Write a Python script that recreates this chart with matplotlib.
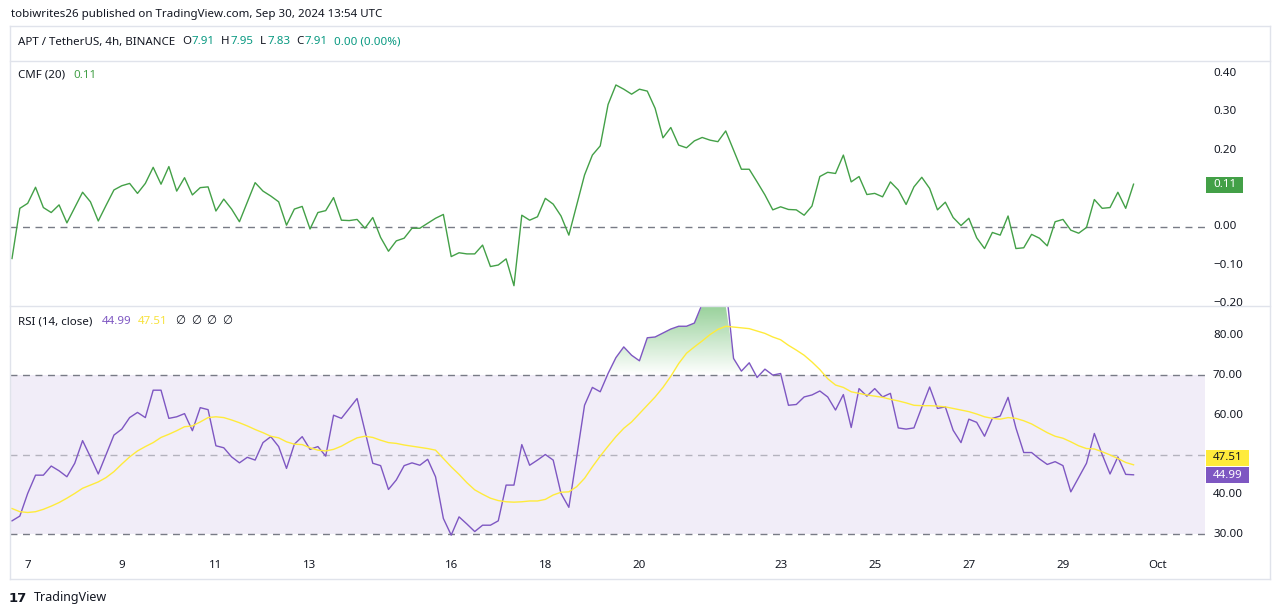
import numpy as np
import matplotlib
matplotlib.use("Agg")
import matplotlib.pyplot as plt
from matplotlib import transforms
from matplotlib.colors import to_rgb
from matplotlib.lines import Line2D
from matplotlib.patches import Rectangle
from matplotlib.path import Path
from matplotlib.transforms import Bbox, TransformedBbox

plt.rcParams['font.family'] = ['Noto Sans', 'DejaVu Sans']

# -----------------------------------
# DATA (APT/USDT 4h, first bar Sep 6 16:00 UTC)
# -----------------------------------
cmf = [
    -0.083, 0.048, 0.061, 0.103, 0.050, 0.037, 0.057, 0.010, 0.050, 0.090,
    0.065, 0.015, 0.056, 0.096, 0.107, 0.113, 0.087, 0.113, 0.155, 0.111,
    0.157, 0.093, 0.128, 0.083, 0.102, 0.104, 0.041, 0.072, 0.046, 0.013,
    0.064, 0.115, 0.093, 0.080, 0.065, 0.004, 0.046, 0.053, -0.006, 0.037,
    0.042, 0.076, 0.017, 0.016, 0.019, -0.004, 0.024, -0.028, -0.064, -0.037,
    -0.030, -0.004, -0.004, 0.009, 0.022, 0.032, -0.078, -0.068, -0.071, -0.071,
    -0.048, -0.104, -0.100, -0.084, -0.154, 0.030, 0.017, 0.026, 0.074, 0.059,
    0.028, -0.022, 0.057, 0.135, 0.187, 0.211, 0.319, 0.370, 0.359, 0.346,
    0.359, 0.354, 0.309, 0.232, 0.259, 0.213, 0.206, 0.224, 0.233, 0.226,
    0.222, 0.250, 0.200, 0.150, 0.150, 0.117, 0.083, 0.044, 0.052, 0.045,
    0.044, 0.030, 0.054, 0.131, 0.142, 0.139, 0.187, 0.117, 0.131, 0.084,
    0.087, 0.078, 0.117, 0.096, 0.058, 0.104, 0.129, 0.100, 0.044, 0.064,
    0.024, 0.003, 0.022, -0.029, -0.057, -0.015, -0.022, 0.028, -0.057, -0.055,
    -0.020, -0.030, -0.050, 0.013, 0.019, -0.009, -0.017, -0.002, 0.071, 0.048,
    0.050, 0.090, 0.048, 0.111,
]

rsi = [
    33.4, 34.6, 40.3, 44.9, 44.9, 47.2, 46.0, 44.5, 47.9, 53.6,
    49.5, 45.2, 50.1, 55.0, 56.5, 59.4, 60.7, 59.4, 66.3, 66.3,
    59.2, 59.6, 60.4, 56.1, 61.9, 61.4, 52.3, 51.8, 49.5, 48.0,
    49.4, 48.7, 53.1, 54.6, 52.1, 46.6, 52.7, 54.6, 51.4, 52.1,
    49.7, 60.0, 59.2, 61.7, 64.2, 56.1, 47.9, 47.3, 41.3, 43.7,
    47.3, 48.0, 47.4, 48.9, 44.5, 34.0, 29.8, 34.4, 32.6, 30.7,
    32.3, 32.3, 33.4, 42.4, 42.4, 52.6, 47.4, 48.7, 50.1, 48.7,
    40.3, 36.8, 49.5, 62.5, 67.0, 65.9, 70.5, 74.5, 77.2, 75.1,
    73.7, 79.5, 79.7, 80.7, 81.7, 82.4, 82.4, 83.2, 88.0, 91.0,
    93.0, 93.0, 74.3, 71.1, 73.2, 69.5, 71.6, 70.1, 70.5, 62.5,
    62.7, 64.6, 65.1, 66.1, 64.6, 61.3, 65.2, 56.9, 66.7, 64.8,
    66.7, 64.6, 65.5, 56.8, 56.5, 56.8, 62.0, 67.1, 61.7, 62.1,
    56.2, 53.1, 59.0, 58.2, 54.7, 59.2, 59.8, 64.5, 56.8, 50.6,
    50.6, 49.0, 47.6, 48.3, 47.3, 40.7, 44.3, 47.9, 55.4, 50.1,
    45.2, 49.5, 45.1, 44.99,
]

rsi_ma = [
    36.5, 35.7, 35.5, 35.7, 36.3, 37.1, 38.0, 39.1, 40.3, 41.6,
    42.4, 43.2, 44.3, 45.8, 47.7, 49.5, 51.0, 52.1, 53.1, 54.4,
    55.2, 56.1, 57.1, 57.3, 58.3, 59.4, 59.6, 59.4, 58.8, 58.1,
    57.3, 56.4, 55.6, 54.7, 54.3, 53.3, 52.7, 52.6, 51.8, 51.2,
    51.0, 51.4, 52.2, 53.3, 54.3, 54.7, 54.4, 53.7, 53.1, 52.9,
    52.5, 52.2, 51.9, 51.6, 51.2, 49.1, 47.0, 45.1, 43.0, 41.2,
    40.1, 39.1, 38.5, 38.2, 38.1, 38.2, 38.4, 38.4, 38.8, 39.9,
    40.6, 40.7, 42.0, 44.1, 47.0, 49.7, 52.2, 54.6, 56.7, 58.3,
    60.4, 62.5, 64.6, 67.0, 69.8, 73.0, 75.6, 77.2, 78.7, 80.3,
    81.6, 82.4, 82.2, 82.0, 81.8, 81.2, 80.6, 79.7, 79.0, 77.6,
    76.4, 75.1, 73.4, 71.5, 69.2, 67.6, 67.0, 65.9, 65.5, 65.1,
    64.8, 64.5, 64.0, 63.6, 63.1, 62.5, 62.4, 62.4, 62.3, 62.1,
    61.7, 61.3, 60.9, 60.3, 59.6, 59.2, 59.0, 59.4, 59.2, 58.6,
    57.8, 56.7, 55.6, 54.7, 54.2, 53.3, 52.3, 51.6, 51.5, 50.8,
    50.0, 49.1, 48.1, 47.51,
]

day_labels = ["7", "9", "11", "13", "16", "18", "20", "23", "25", "27", "29", "Oct"]
day_numbers = [7, 9, 11, 13, 16, 18, 20, 23, 25, 27, 29, 31]   # Oct 1 = Sep 31

cmf_ticks = [0.40, 0.30, 0.20, 0.00, -0.10, -0.20]
rsi_ticks = [80, 70, 60, 40, 30]

# -----------------------------------
# FIGURE LAYOUT (pixel based)
# -----------------------------------
W, H = 1281, 615
fig = plt.figure(figsize=(W / 100, H / 100), dpi=100)
fig.patch.set_facecolor("white")

DARK = "#131722"
GRID = "#787b86"
FRAME = "#e0e3eb"
GREEN = "#43a047"
PURPLE = "#7e57c2"
YELLOW = "#ffeb3b"
TEAL = "#089981"
FS = 8.3

def fx(x):
    return x / W

def fy(y):
    return 1 - y / H

PLOT_L, PLOT_R = 10, 1205
X0, DX = 12.0, 7.843   # pixel of first bar and bar spacing

def pane(top, bottom):
    ax = fig.add_axes([fx(PLOT_L), fy(bottom), fx(PLOT_R) - fx(PLOT_L), (bottom - top) / H])
    ax.set_facecolor("none")
    for s in ax.spines.values():
        s.set_visible(False)
    ax.set_xticks([])
    ax.set_yticks([])
    return ax

bars = np.arange(len(cmf))
XLIM = ((PLOT_L - X0) / DX, (PLOT_R - X0) / DX)

# -----------------------------------
# CMF PANE
# -----------------------------------
ax1 = pane(61, 306)
ax1.axhline(0, color=GRID, lw=1, dashes=(5, 4), zorder=1)
ax1.plot(bars, cmf, color=GREEN, lw=1.0, zorder=3)
ax1.set_xlim(*XLIM)
ax1.set_ylim(-0.207, 0.4326)

# -----------------------------------
# RSI PANE
# -----------------------------------
ax2 = pane(306, 553)
ax2.axhspan(30, 70, color=PURPLE, alpha=0.1, lw=0, zorder=0)
ax2.axhline(70, color=GRID, lw=1, dashes=(5, 4), zorder=1)
ax2.axhline(30, color=GRID, lw=1, dashes=(5, 4), zorder=1)
ax2.axhline(50, color=GRID, lw=1, dashes=(5, 4), alpha=0.5, zorder=1)

r = np.array(rsi)
top_lim = 87.5

# overbought gradient fill
ob = ax2.fill_between(bars, 70, np.minimum(r, top_lim), where=r > 70, interpolate=True,
                      facecolor="none", edgecolor="none")
img = np.zeros((256, 1, 4))
img[..., :3] = to_rgb("#4caf50")
img[..., 3] = np.linspace(0, 1, 256)[:, None]
im = ax2.imshow(img, extent=[bars[0], bars[-1], 70, 100], origin="lower",
                aspect="auto", interpolation="bilinear", zorder=2)
im.set_clip_path(Path.make_compound_path(*ob.get_paths()), ax2.transData)

# oversold gradient fill
os_ = ax2.fill_between(bars, 30, r, where=r < 30, interpolate=True,
                       facecolor="none", edgecolor="none")
if len(os_.get_paths()) > 0:
    img2 = np.zeros((256, 1, 4))
    img2[..., :3] = to_rgb("#f23645")
    img2[..., 3] = np.linspace(1, 0, 256)[:, None]
    im2 = ax2.imshow(img2, extent=[bars[0], bars[-1], 0, 30], origin="lower",
                     aspect="auto", interpolation="bilinear", zorder=2)
    im2.set_clip_path(Path.make_compound_path(*os_.get_paths()), ax2.transData)

ax2.plot(bars, rsi, color=PURPLE, lw=1.0, zorder=3)
ax2.plot(bars, rsi_ma, color=YELLOW, lw=1.0, zorder=4)
ax2.set_xlim(*XLIM)
ax2.set_ylim(25.3, top_lim)

# -----------------------------------
# PRICE SCALE LABELS
# -----------------------------------
def price_labels(ax, values, top, bottom):
    tr = transforms.blended_transform_factory(fig.transFigure, ax.transData)
    clip = TransformedBbox(Bbox([[fx(PLOT_L), fy(bottom)], [fx(1270), fy(top)]]), fig.transFigure)
    for v in values:
        t = fig.text(fx(1213), v, f"{v:.2f}".replace("-", "\u2212"), transform=tr,
                     ha="left", va="center", fontsize=FS, color=DARK)
        t.set_clip_on(True)
        t.set_clip_box(clip)

price_labels(ax1, cmf_ticks, 61, 306)
price_labels(ax2, rsi_ticks, 306, 553)

def badge(y_center, text, face, txt_color, width):
    fig.patches.append(Rectangle((fx(1206), fy(y_center + 8)), width / W, 16 / H,
                                 transform=fig.transFigure, facecolor=face, edgecolor="none"))
    fig.text(fx(1213), fy(y_center), text, ha="left", va="center",
             fontsize=FS, color=txt_color, fontweight="bold")

badge(184.5, f"{cmf[-1]:.2f}", GREEN, "white", 37)
badge(458, f"{rsi_ma[-1]:.2f}", YELLOW, DARK, 43)
badge(475, f"{rsi[-1]:.2f}", PURPLE, "white", 43)

# -----------------------------------
# TIME AXIS
# -----------------------------------
ttr = transforms.blended_transform_factory(ax2.transData, fig.transFigure)
for lab, d in zip(day_labels, day_numbers):
    pos = 2 + (d - 7) * 6
    fig.text(pos, fy(566), lab, transform=ttr, ha="center", va="center",
             fontsize=FS, color=DARK)

# -----------------------------------
# FRAME LINES
# -----------------------------------
def hline(y, x0=10, x1=1270):
    fig.add_artist(Line2D([fx(x0), fx(x1)], [fy(y), fy(y)], color=FRAME, lw=1))

def vline(x, y0=26, y1=579):
    fig.add_artist(Line2D([fx(x), fx(x)], [fy(y0), fy(y1)], color=FRAME, lw=1))

for y in (26, 61, 306, 579):
    hline(y)
vline(10)
vline(1270)

# -----------------------------------
# HEADER TEXTS
# -----------------------------------
fig.text(fx(11), fy(14), "tobiwrites26 published on TradingView.com, Sep 30, 2024 13:54 UTC",
         ha="left", va="center", fontsize=FS, color=DARK)

sym_parts = [
    (18, "APT / TetherUS, 4h, BINANCE", DARK),
    (182, "O", DARK), (191.5, "7.91", TEAL),
    (221, "H", DARK), (230.5, "7.95", TEAL),
    (260, "L", DARK), (267.5, "7.83", TEAL),
    (296, "C", DARK), (304.5, "7.91", TEAL),
    (334, "0.00 (0.00%)", TEAL),
]
for x, s, c in sym_parts:
    fig.text(fx(x), fy(42), s, ha="left", va="center", fontsize=FS, color=c)

fig.text(fx(18), fy(75), "CMF (20)", ha="left", va="center", fontsize=FS, color=DARK)
fig.text(fx(73), fy(75), f"{cmf[-1]:.2f}", ha="left", va="center", fontsize=FS, color=GREEN)

fig.text(fx(18), fy(322), "RSI (14, close)", ha="left", va="center", fontsize=FS, color=DARK)
fig.text(fx(102), fy(322), f"{rsi[-1]:.2f}", ha="left", va="center", fontsize=FS, color=PURPLE)
fig.text(fx(138), fy(322), f"{rsi_ma[-1]:.2f}", ha="left", va="center", fontsize=FS, color="#f7e23b")
for x in (175, 191, 206, 222):
    fig.text(fx(x), fy(322), "\u2205", ha="left", va="center", fontsize=FS, color=DARK)

# footer logo + name
fig.text(fx(9), fy(598), "17", ha="left", va="center", fontsize=9.5, color=DARK,
         fontweight="bold", family="DejaVu Sans")
fig.text(fx(34), fy(598), "TradingView", ha="left", va="center", fontsize=FS + 0.7, color=DARK)

plt.savefig("out.png", dpi=100, facecolor="white")
